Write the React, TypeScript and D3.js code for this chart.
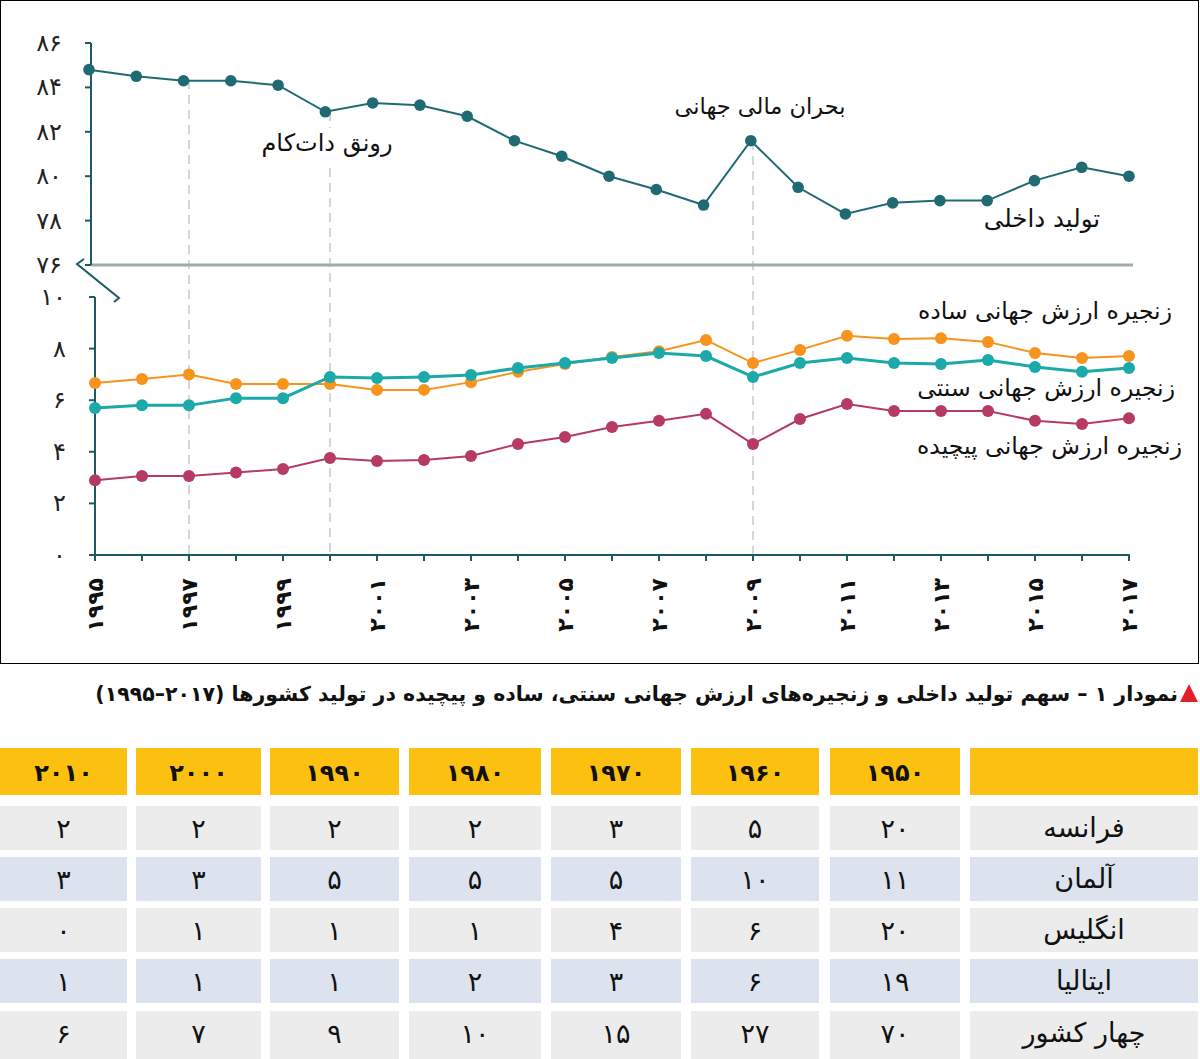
import React from "react";
import * as d3 from "d3";

const years = d3.range(1995, 2018);
const domestic = [84.8, 84.5, 84.3, 84.3, 84.1, 82.9, 83.3, 83.2, 82.7, 81.6, 80.9, 80.0, 79.4, 78.7, 81.6, 79.5, 78.3, 78.8, 78.9, 78.9, 79.8, 80.4, 80.0];
const simpleGvc = [6.67, 6.82, 7.0, 6.63, 6.63, 6.63, 6.4, 6.4, 6.7, 7.1, 7.4, 7.67, 7.9, 8.33, 7.44, 7.95, 8.5, 8.37, 8.4, 8.26, 7.83, 7.64, 7.71];
const traditionalGvc = [5.7, 5.8, 5.8, 6.08, 6.08, 6.9, 6.86, 6.9, 6.98, 7.25, 7.44, 7.64, 7.83, 7.71, 6.9, 7.44, 7.64, 7.44, 7.4, 7.56, 7.29, 7.1, 7.25];
const complexGvc = [2.9, 3.06, 3.06, 3.2, 3.33, 3.76, 3.64, 3.68, 3.84, 4.3, 4.57, 4.96, 5.2, 5.47, 4.3, 5.27, 5.85, 5.58, 5.58, 5.58, 5.2, 5.08, 5.3];
const topTicks = [76, 78, 80, 82, 84, 86];
const bottomTicks = [0, 2, 4, 6, 8, 10];
const labelYears = [1995, 1997, 1999, 2001, 2003, 2005, 2007, 2009, 2011, 2013, 2015, 2017];
const eventYears = [1997, 2000, 2009];

const tableYears = [1950, 1960, 1970, 1980, 1990, 2000, 2010];
const countries = ["فرانسه", "آلمان", "انگلیس", "ایتالیا", "چهار کشور"];
const france = [20, 5, 3, 2, 2, 2, 2];
const germany = [11, 10, 5, 5, 5, 3, 3];
const uk = [20, 6, 4, 1, 1, 1, 0];
const italy = [19, 6, 3, 2, 1, 1, 1];
const fourCountries = [70, 27, 15, 10, 9, 7, 6];
const tableRows = [france, germany, uk, italy, fourCountries];

const fa = (v: number | string) => String(v).replace(/\d/g, (d) => "۰۱۲۳۴۵۶۷۸۹"[+d]);

const FONT = "'DejaVu Sans', sans-serif";
const AXIS = "#1d5a64";
const TOPLINE = "#1f6a73";
const ORANGE = "#f7941d";
const TEAL = "#1ba9aa";
const CRIMSON = "#b63a62";

export default function App() {
  const xTop = d3.scaleLinear().domain([1995, 2017]).range([89, 1129]);
  const xBot = d3.scaleLinear().domain([1995, 2017]).range([95, 1129]);
  const yTop = d3.scaleLinear().domain([76, 86]).range([265, 43]);
  const yBot = d3.scaleLinear().domain([0, 10]).range([555, 297]);

  const lineTop = d3.line<number>().x((_, i) => xTop(years[i])).y((d) => yTop(d));
  const lineBot = d3.line<number>().x((_, i) => xBot(years[i])).y((d) => yBot(d));

  const series = [
    { data: simpleGvc, color: ORANGE, w: 2 },
    { data: traditionalGvc, color: TEAL, w: 3 },
    { data: complexGvc, color: CRIMSON, w: 2 },
  ];

  const colX = [830, 691, 551, 409, 270, 136, 0];
  const colW = [130, 128, 130, 132, 129, 125, 127];
  const rowY = [806, 857, 908, 959, 1011];
  const rowH = [44, 44, 44, 44, 48];
  const rowFill = ["#ececec", "#dce3ee", "#ececec", "#dce3ee", "#ececec"];

  const dashTop: Record<number, number[][]> = {
    1997: [[80, 555]],
    2000: [[112, 128], [168, 555]],
    2009: [[141, 555]],
  };

  const captionYears = `(\u202A${fa(1995)}–${fa(2017)}\u202C)`;

  return (
    <svg width={1200} height={1059} style={{ position: "absolute", left: 0, top: 0, background: "#fff" }} fontFamily={FONT}>
      <rect x={0.5} y={0.5} width={1198} height={663} fill="#fff" stroke="#000" strokeWidth={1} />

      {eventYears.map((yr) =>
        dashTop[yr].map((seg, k) => (
          <line key={yr + "-" + k} x1={xBot(yr)} x2={xBot(yr)} y1={seg[0]} y2={seg[1]} stroke="#c9c9c9" strokeWidth={1.5} strokeDasharray="9 6" />
        ))
      )}

      {/* top axis */}
      <line x1={91} x2={1133} y1={265} y2={265} stroke="#a2abac" strokeWidth={3} />
      <line x1={91} x2={91} y1={43} y2={265} stroke={AXIS} strokeWidth={2} />
      {topTicks.map((t) => (
        <g key={t}>
          <line x1={85} x2={91} y1={yTop(t)} y2={yTop(t)} stroke={AXIS} strokeWidth={2} />
          <text x={62} y={yTop(t) + 8} textAnchor="end" fontSize={24} letterSpacing={2} fill="#222">{fa(t)}</text>
        </g>
      ))}
      <path d="M84,259 L77,264 L119,298 L114,302" fill="none" stroke={AXIS} strokeWidth={2} />

      <path d={lineTop(domestic) || ""} fill="none" stroke={TOPLINE} strokeWidth={2} />
      {domestic.map((v, i) => (
        <circle key={i} cx={xTop(years[i])} cy={yTop(v)} r={5.8} fill={TOPLINE} />
      ))}

      {/* bottom axis */}
      <line x1={95} x2={95} y1={297} y2={555} stroke={AXIS} strokeWidth={2} />
      <line x1={94} x2={1130} y1={555} y2={555} stroke={AXIS} strokeWidth={2} />
      {bottomTicks.map((t) => (
        <g key={t}>
          <line x1={89} x2={95} y1={yBot(t)} y2={yBot(t)} stroke={AXIS} strokeWidth={2} />
          <text x={66} y={yBot(t) + 8} textAnchor="end" fontSize={24} letterSpacing={2} fill="#222">{fa(t)}</text>
        </g>
      ))}
      {years.map((yr) => (
        <line key={yr} x1={xBot(yr)} x2={xBot(yr)} y1={555} y2={561} stroke={AXIS} strokeWidth={2} />
      ))}
      {labelYears.map((yr) => (
        <text key={yr} transform={`translate(${xBot(yr) + 8},578) rotate(-90)`} textAnchor="end" fontSize={22} letterSpacing={2} fontWeight="bold" fill="#111">{fa(yr)}</text>
      ))}

      {series.map((s, si) => (
        <g key={si}>
          <path d={lineBot(s.data) || ""} fill="none" stroke={s.color} strokeWidth={s.w} />
          {s.data.map((v, i) => (
            <circle key={i} cx={xBot(years[i])} cy={yBot(v)} r={6} fill={s.color} />
          ))}
        </g>
      ))}

      {/* annotations */}
      <g fill="#111" direction="rtl">
        <text x={327} y={151} textAnchor="middle" fontSize={24}>رونق دات‌کام</text>
        <text x={760} y={114} textAnchor="middle" fontSize={22.5}>بحران مالی جهانی</text>
        <text x={1042} y={227} textAnchor="middle" fontSize={24.5}>تولید داخلی</text>
        <text x={1172} y={319} textAnchor="start" fontSize={23.5}>زنجیره ارزش جهانی ساده</text>
        <text x={1175} y={396} textAnchor="start" fontSize={23.5}>زنجیره ارزش جهانی سنتی</text>
        <text x={1182} y={454} textAnchor="start" fontSize={23.5}>زنجیره ارزش جهانی پیچیده</text>
      </g>

      {/* caption */}
      <path d="M1180,702 L1189,684 L1198,702 Z" fill="#e3202a" />
      <text x={1178} y={701} direction="rtl" textAnchor="start" fontSize={20.5} fontWeight="bold" fill="#111">
        {"نمودار ۱ – سهم تولید داخلی و زنجیره‌های ارزش جهانی سنتی، ساده و پیچیده در تولید کشورها " + captionYears}
      </text>

      {/* table */}
      <rect x={970} y={748} width={228} height={47} fill="#fcc010" />
      {tableYears.map((yr, c) => (
        <g key={yr}>
          <rect x={colX[c]} y={748} width={colW[c]} height={47} fill="#fcc010" />
          <text x={colX[c] + colW[c] / 2} y={781} textAnchor="middle" fontSize={24} letterSpacing={5} fontWeight="bold" fill="#111">{fa(yr)}</text>
        </g>
      ))}
      {countries.map((name, r) => (
        <g key={name}>
          <rect x={970} y={rowY[r]} width={228} height={rowH[r]} fill={rowFill[r]} />
          <text x={1084} y={rowY[r] + 31} textAnchor="middle" direction="rtl" fontSize={27} fill="#111">{name}</text>
          {tableRows[r].map((v, c) => (
            <g key={c}>
              <rect x={colX[c]} y={rowY[r]} width={colW[c]} height={rowH[r]} fill={rowFill[r]} />
              <text x={colX[c] + colW[c] / 2} y={rowY[r] + 32} textAnchor="middle" fontSize={27} letterSpacing={3} fill="#111">{fa(v)}</text>
            </g>
          ))}
        </g>
      ))}
    </svg>
  );
}
